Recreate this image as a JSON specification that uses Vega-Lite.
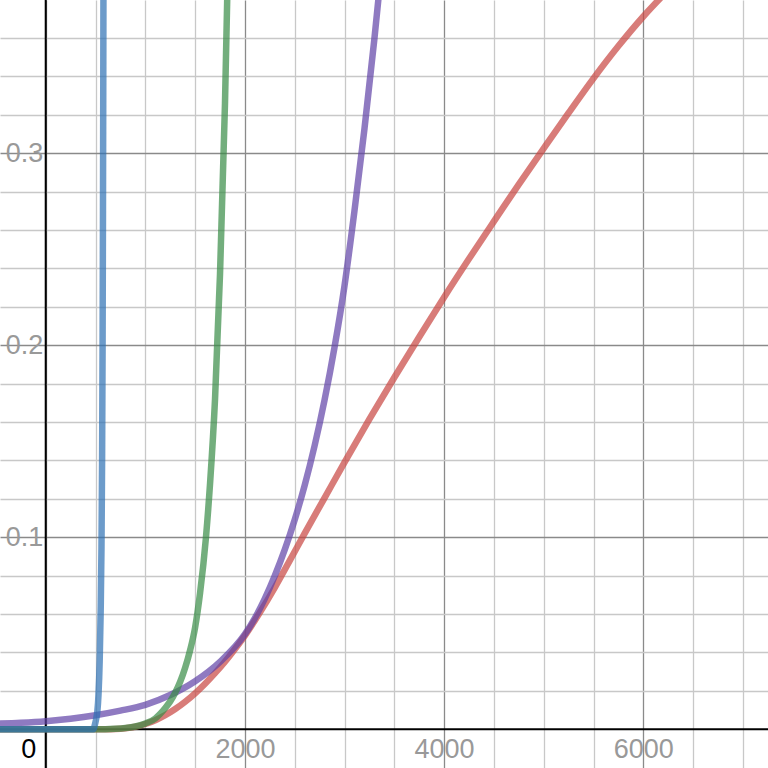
{
  "$schema": "https://vega.github.io/schema/vega-lite/v6.json",
  "width": 768,
  "height": 768,
  "autosize": {"type": "none"},
  "padding": 0,
  "background": "white",
  "config": {
    "view": {"stroke": null},
    "axis": {"zindex": 0, "title": null, "domain": false, "ticks": false}
  },
  "data": {
    "values": [
      {"curve": "red", "x": -500, "y": 0},
      {"curve": "red", "x": 600, "y": 0},
      {"curve": "red", "x": 700, "y": 0.0001},
      {"curve": "red", "x": 800, "y": 0.0005},
      {"curve": "red", "x": 900, "y": 0.0013},
      {"curve": "red", "x": 1000, "y": 0.0027},
      {"curve": "red", "x": 1100, "y": 0.0047},
      {"curve": "red", "x": 1200, "y": 0.0073},
      {"curve": "red", "x": 1300, "y": 0.0105},
      {"curve": "red", "x": 1400, "y": 0.0143},
      {"curve": "red", "x": 1500, "y": 0.0187},
      {"curve": "red", "x": 1600, "y": 0.0237},
      {"curve": "red", "x": 1700, "y": 0.0292},
      {"curve": "red", "x": 1800, "y": 0.0352},
      {"curve": "red", "x": 1900, "y": 0.0418},
      {"curve": "red", "x": 2000, "y": 0.0488},
      {"curve": "red", "x": 2150, "y": 0.0608},
      {"curve": "red", "x": 2300, "y": 0.0738},
      {"curve": "red", "x": 2450, "y": 0.0878},
      {"curve": "red", "x": 2600, "y": 0.1020},
      {"curve": "red", "x": 2800, "y": 0.1205},
      {"curve": "red", "x": 3000, "y": 0.1390},
      {"curve": "red", "x": 3250, "y": 0.1615},
      {"curve": "red", "x": 3500, "y": 0.1832},
      {"curve": "red", "x": 3750, "y": 0.2043},
      {"curve": "red", "x": 4000, "y": 0.2250},
      {"curve": "red", "x": 4250, "y": 0.2450},
      {"curve": "red", "x": 4500, "y": 0.2645},
      {"curve": "red", "x": 4750, "y": 0.2838},
      {"curve": "red", "x": 5000, "y": 0.3025},
      {"curve": "red", "x": 5250, "y": 0.3210},
      {"curve": "red", "x": 5500, "y": 0.3390},
      {"curve": "red", "x": 5750, "y": 0.3558},
      {"curve": "red", "x": 6000, "y": 0.3712},
      {"curve": "red", "x": 6250, "y": 0.3850},
      {"curve": "red", "x": 6400, "y": 0.3928},

      {"curve": "purple", "x": -500, "y": 0.0029},
      {"curve": "purple", "x": -250, "y": 0.0034},
      {"curve": "purple", "x": 0, "y": 0.0042},
      {"curve": "purple", "x": 250, "y": 0.0055},
      {"curve": "purple", "x": 500, "y": 0.0073},
      {"curve": "purple", "x": 750, "y": 0.0097},
      {"curve": "purple", "x": 1000, "y": 0.0127},
      {"curve": "purple", "x": 1250, "y": 0.0178},
      {"curve": "purple", "x": 1500, "y": 0.0250},
      {"curve": "purple", "x": 1750, "y": 0.0351},
      {"curve": "purple", "x": 2000, "y": 0.0495},
      {"curve": "purple", "x": 2100, "y": 0.0579},
      {"curve": "purple", "x": 2200, "y": 0.0680},
      {"curve": "purple", "x": 2300, "y": 0.0799},
      {"curve": "purple", "x": 2400, "y": 0.0935},
      {"curve": "purple", "x": 2500, "y": 0.1091},
      {"curve": "purple", "x": 2600, "y": 0.1270},
      {"curve": "purple", "x": 2700, "y": 0.1477},
      {"curve": "purple", "x": 2800, "y": 0.1715},
      {"curve": "purple", "x": 2900, "y": 0.1990},
      {"curve": "purple", "x": 3000, "y": 0.2310},
      {"curve": "purple", "x": 3100, "y": 0.2700},
      {"curve": "purple", "x": 3200, "y": 0.3125},
      {"curve": "purple", "x": 3300, "y": 0.3595},
      {"curve": "purple", "x": 3400, "y": 0.4110},

      {"curve": "green", "x": -500, "y": 0},
      {"curve": "green", "x": 600, "y": 0},
      {"curve": "green", "x": 700, "y": 0.0002},
      {"curve": "green", "x": 800, "y": 0.0006},
      {"curve": "green", "x": 900, "y": 0.0014},
      {"curve": "green", "x": 1000, "y": 0.003},
      {"curve": "green", "x": 1100, "y": 0.0056},
      {"curve": "green", "x": 1150, "y": 0.008},
      {"curve": "green", "x": 1200, "y": 0.011},
      {"curve": "green", "x": 1250, "y": 0.0145},
      {"curve": "green", "x": 1300, "y": 0.019},
      {"curve": "green", "x": 1350, "y": 0.0247},
      {"curve": "green", "x": 1400, "y": 0.032},
      {"curve": "green", "x": 1450, "y": 0.0412},
      {"curve": "green", "x": 1500, "y": 0.053},
      {"curve": "green", "x": 1550, "y": 0.071},
      {"curve": "green", "x": 1609, "y": 0.1},
      {"curve": "green", "x": 1650, "y": 0.128},
      {"curve": "green", "x": 1700, "y": 0.172},
      {"curve": "green", "x": 1750, "y": 0.237},
      {"curve": "green", "x": 1800, "y": 0.326},
      {"curve": "green", "x": 1850, "y": 0.448},

      {"curve": "blue", "x": -500, "y": 0},
      {"curve": "blue", "x": 480, "y": 0},
      {"curve": "blue", "x": 492, "y": 0.002},
      {"curve": "blue", "x": 505, "y": 0.005},
      {"curve": "blue", "x": 518, "y": 0.009},
      {"curve": "blue", "x": 530, "y": 0.018},
      {"curve": "blue", "x": 542, "y": 0.036},
      {"curve": "blue", "x": 552, "y": 0.062},
      {"curve": "blue", "x": 560, "y": 0.095},
      {"curve": "blue", "x": 566, "y": 0.14},
      {"curve": "blue", "x": 571, "y": 0.2},
      {"curve": "blue", "x": 575, "y": 0.27},
      {"curve": "blue", "x": 578, "y": 0.34},
      {"curve": "blue", "x": 581, "y": 0.42}
    ]
  },
  "resolve": {"axis": {"x": "independent", "y": "independent"}},
  "layer": [
    {
      "data": {"values": [{}]},
      "mark": {"type": "rule", "color": "#000000", "strokeWidth": 2},
      "encoding": {
        "x": {
          "datum": 0,
          "type": "quantitative",
          "scale": {"domain": [-459, 7252], "nice": false, "zero": false},
          "axis": {
            "orient": "bottom",
            "values": [-500, 500, 1000, 1500, 2500, 3000, 3500, 4500, 5000, 5500, 6500, 7000],
            "grid": true,
            "gridColor": "#c8c8c8",
            "gridWidth": 1.3,
            "labels": false
          }
        }
      }
    },
    {
      "data": {"values": [{}]},
      "mark": {"type": "rule", "color": "#000000", "strokeWidth": 2},
      "encoding": {
        "y": {
          "datum": 0,
          "type": "quantitative",
          "scale": {"domain": [-0.0202, 0.3798], "nice": false, "zero": false},
          "axis": {
            "orient": "left",
            "values": [0.02, 0.04, 0.06, 0.08, 0.12, 0.14, 0.16, 0.18, 0.22, 0.24, 0.26, 0.28, 0.32, 0.34, 0.36, 0.38],
            "grid": true,
            "gridColor": "#c8c8c8",
            "gridWidth": 1.3,
            "labels": false
          }
        }
      }
    },
    {
      "mark": {"type": "line", "interpolate": "monotone", "clip": true},
      "encoding": {
        "x": {
          "field": "x",
          "type": "quantitative",
          "scale": {"domain": [-459, 7252], "nice": false, "zero": false},
          "axis": {
            "orient": "bottom",
            "values": [0, 2000, 4000, 6000],
            "format": "d",
            "grid": true,
            "gridColor": "#8a8a8a",
            "gridWidth": 1.3,
            "offset": -38.8,
            "labelPadding": 7,
            "labelFont": "Liberation Sans",
            "labelFontSize": 27,
            "labelColor": {"condition": {"test": "datum.value === 0", "value": "#000000"}, "value": "#999999"},
            "labelAlign": {"condition": {"test": "datum.value === 0", "value": "right"}, "value": "center"},
            "labelOffset": {"condition": {"test": "datum.value === 0", "value": -10}, "value": 0},
            "labelFlush": false,
            "labelOverlap": false
          }
        },
        "y": {
          "field": "y",
          "type": "quantitative",
          "scale": {"domain": [-0.0202, 0.3798], "nice": false, "zero": false},
          "axis": {
            "orient": "left",
            "values": [0.1, 0.2, 0.3],
            "format": ".1f",
            "grid": true,
            "gridColor": "#8a8a8a",
            "gridWidth": 1.3,
            "offset": -45.7,
            "labelPadding": 3,
            "labelFont": "Liberation Sans",
            "labelFontSize": 27,
            "labelColor": "#999999",
            "labelFlush": false,
            "labelOverlap": false
          }
        },
        "color": {
          "field": "curve",
          "type": "nominal",
          "scale": {
            "domain": ["red", "purple", "green", "blue"],
            "range": ["#c74440", "#6042a6", "#388c46", "#2d70b3"]
          },
          "legend": null
        },
        "strokeWidth": {"value": 6.5},
        "strokeOpacity": {"value": 0.7}
      }
    }
  ]
}
